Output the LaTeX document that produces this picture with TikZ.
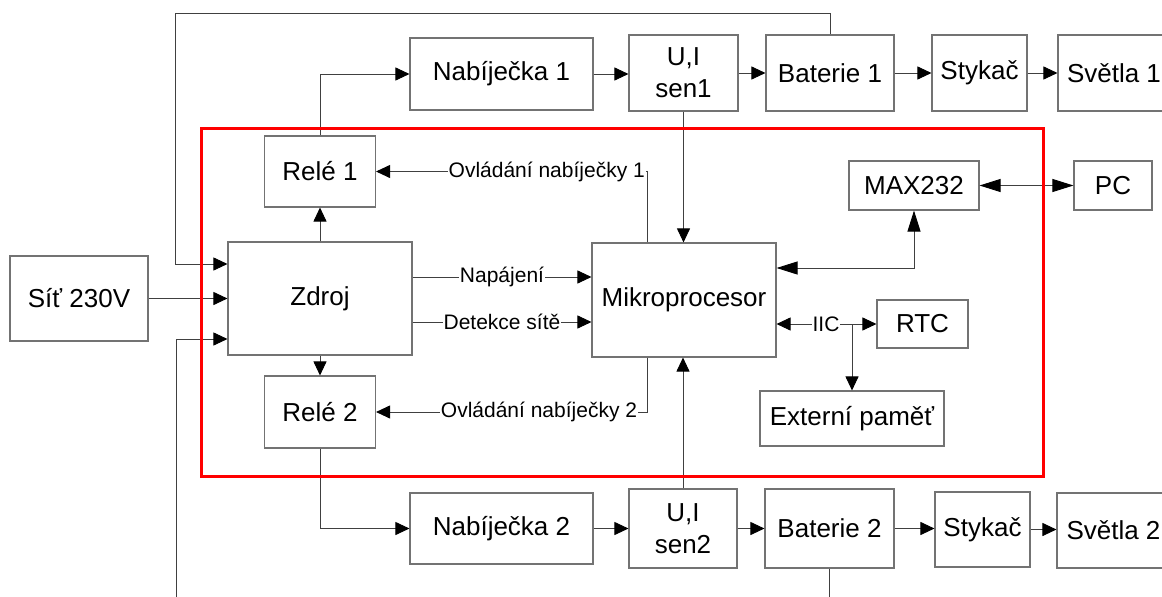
\documentclass[tikz,border=0pt]{standalone}
\usepackage{fontspec}
\setmainfont{Liberation Sans}
\usetikzlibrary{arrows.meta,calc}
\begin{document}
\begin{tikzpicture}[x=1pt,y=-1pt,
  box/.style={draw=black!55, line width=1.1pt, inner sep=0pt, font=\fontsize{26}{32}\selectfont, align=center},
  lbl/.style={fill=white, inner xsep=1pt, inner ysep=0pt, font=\fontsize{21}{25}\selectfont},
  wire/.style={draw=black!75, line width=0.9pt},
  arr/.style={wire, -{Triangle[length=14pt,width=13pt,color=black]}},
  larr/.style={wire, {Triangle[length=21pt,width=13pt,color=black]}-{Triangle[length=21pt,width=13pt,color=black]}},
  frame/.style={draw=red, line width=3pt}
  ]
\useasboundingbox (0,0) rectangle (1162,597);
\clip (0,0) rectangle (1162,597);

% boxes
\node[box, minimum width=138pt, minimum height=85pt] (sit) at (79,298.5) {Síť 230V};
\node[box, minimum width=184pt, minimum height=113pt] (zdroj) at (320,298.5) {Zdroj};
\node[box, minimum width=111pt, minimum height=71pt] (rele1) at (320,171.5) {Relé 1};
\node[box, minimum width=111pt, minimum height=72pt] (rele2) at (320,412) {Relé 2};
\node[box, minimum width=183pt, minimum height=72pt] (nab1) at (501.5,74) {Nabíječka 1};
\node[box, minimum width=109pt, minimum height=76pt] (sen1) at (683.5,73) {U,I\\sen1};
\node[box, minimum width=128pt, minimum height=76pt] (bat1) at (830,73) {Baterie 1};
\node[box, minimum width=95pt, minimum height=76pt] (sty1) at (979.5,73) {Stykač};
\node[box, minimum width=112pt, minimum height=76pt] (svet1) at (1114,73) {Světla 1};
\node[box, minimum width=183pt, minimum height=71pt] (nab2) at (501.5,528.5) {Nabíječka 2};
\node[box, minimum width=108pt, minimum height=79pt] (sen2) at (683,528.5) {U,I\\sen2};
\node[box, minimum width=129pt, minimum height=79pt] (bat2) at (829.5,528.5) {Baterie 2};
\node[box, minimum width=95pt, minimum height=75pt] (sty2) at (982.5,529.5) {Stykač};
\node[box, minimum width=113pt, minimum height=75pt] (svet2) at (1113.5,530.5) {Světla 2};
\node[box, minimum width=184pt, minimum height=114pt] (mikro) at (684,300) {Mikroprocesor};
\node[box, minimum width=130pt, minimum height=49pt] (max) at (914,185.5) {MAX232};
\node[box, minimum width=78pt, minimum height=49pt] (pc) at (1113,185.5) {PC};
\node[box, minimum width=91pt, minimum height=48pt] (rtc) at (922.5,324) {RTC};
\node[box, minimum width=184pt, minimum height=55pt] (ext) at (852,418.5) {Externí paměť};

% helper coordinates
\coordinate (tl) at (175,13);
\coordinate (bl) at (176,620);
\coordinate (zin1) at ([yshift=34.5pt]zdroj.west);
\coordinate (zin3) at ([yshift=-40.5pt]zdroj.west);
\coordinate (n1) at ([yshift=21.5pt]zdroj.east);
\coordinate (d1) at ([yshift=-23.5pt]zdroj.east);
\coordinate (o1) at ([xshift=-37pt]mikro.north);
\coordinate (o2) at ([xshift=-37pt]mikro.south);
\coordinate (mm) at ([yshift=32pt]mikro.east);
\coordinate (iic) at ([yshift=-24pt]mikro.east);
\coordinate (j) at (852,324);

% power wiring
\draw[arr] (bat1.north) |- (tl) |- (zin1);
\draw[arr] (bat2.south) |- (bl) |- (zin3);
\draw[arr] (sit.east) -- (sit.east -| zdroj.west);
\draw[arr] (zdroj.north) -- (rele1.south);
\draw[arr] (zdroj.south) -- (rele2.north);
\draw[arr] (rele1.north) |- (nab1.west);
\draw[arr] (rele2.south) |- (nab2.west);

% top chain
\draw[arr] (nab1.east) -- (nab1.east -| sen1.west);
\draw[arr] (sen1.east) -- (bat1.west);
\draw[arr] (bat1.east) -- (sty1.west);
\draw[arr] (sty1.east) -- (svet1.west);
% bottom chain
\draw[arr] (nab2.east) -- (nab2.east -| sen2.west);
\draw[arr] (sen2.east) -- (bat2.west);
\draw[arr] (bat2.east) -- (bat2.east -| sty2.west);
\draw[arr] (sty2.east) -- (sty2.east -| svet2.west);

% sensors to micro
\draw[arr] (sen1.south) -- (sen1.south |- mikro.north);
\draw[arr] (sen2.north) -- (sen2.north |- mikro.south);

% zdroj to micro
\draw[arr] (n1) -- (n1 -| mikro.west) node[lbl, midway] (lnap) {Napájení};
\draw[arr] (d1) -- (d1 -| mikro.west) node[lbl, midway] (ldet) {Detekce sítě};

% control of chargers
\draw[arr] (o1) |- (rele1.east);
\node[lbl, anchor=east] (lov1) at (646,171.5) {Ovládání nabíječky 1};
\draw[arr] (o2) |- (rele2.east);
\node[lbl] (lov2) at (539,412) {Ovládání nabíječky 2};

% MAX232 and PC
\draw[larr] (mm) -| (max.south);
\draw[larr] (max.east) -- (pc.west);

% IIC bus
\draw[arr] (j) -- (iic);
\node[lbl] (liic) at (826,324) {IIC};
\draw[arr] (j) -- (rtc.west);
\draw[arr] (j) -- (j |- ext.north);

% red frame
\draw[frame] (201,128) rectangle (1043,476);
\end{tikzpicture}
\end{document}
